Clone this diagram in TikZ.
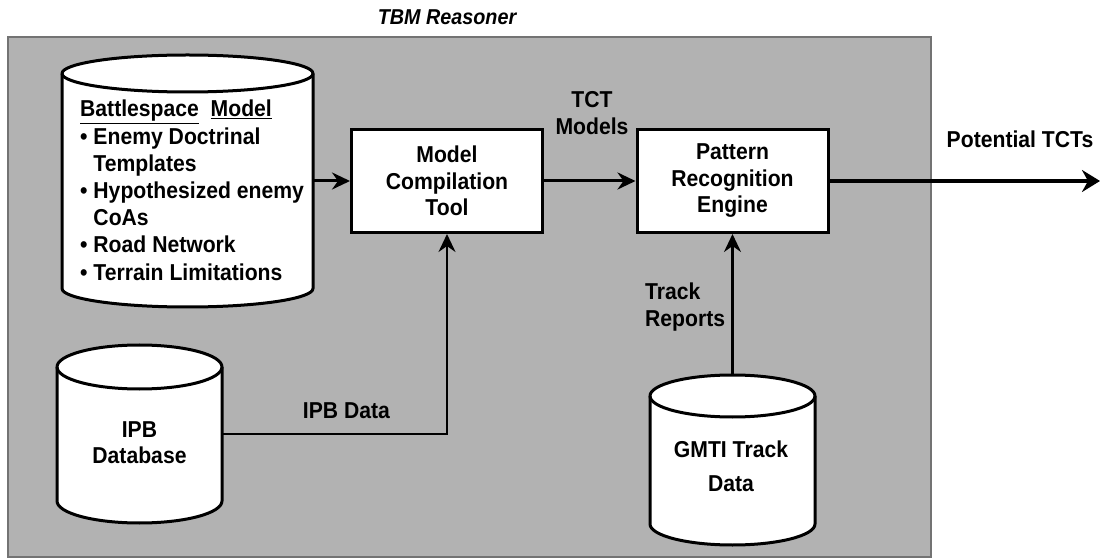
\documentclass[tikz,border=0pt]{standalone}
\usepackage{fontspec}
\setmainfont[FakeStretch=0.92]{Liberation Sans}
\usetikzlibrary{arrows.meta,calc}

\begin{document}
\begin{tikzpicture}[x=1bp,y=-1bp,
  lbl/.style={font=\bfseries\fontsize{23bp}{26.5bp}\selectfont, align=center, inner sep=0pt},
  proc/.style={lbl, draw, fill=white, line width=3bp, minimum width=191bp, minimum height=103bp},
  cyl/.style={draw, fill=white, line width=3bp, line join=round},
  store/.style={inner sep=0pt, minimum width=#1},
  flow/.style={line width=3bp, -{Stealth[length=18bp,width=17bp,inset=6bp]}},
  feed/.style={line width=2.4bp, -{Stealth[length=18bp,width=17bp,inset=6bp]}}]
  \useasboundingbox (0,0) rectangle (1101,560);

  % reasoner panel
  \filldraw[fill=black!30, draw=black!55, line width=1.5bp] (8,37) rectangle (931,557);
  \node[lbl, font=\bfseries\itshape\fontsize{21.5bp}{24bp}\selectfont, anchor=base] (title) at (447,25) {TBM Reasoner};

  % data stores
  \filldraw[cyl] (62,73.5) -- (62,288.5) arc[start angle=180,end angle=0,x radius=125.5,y radius=18.5]
    -- (313,73.5) arc[start angle=0,end angle=-180,x radius=125.5,y radius=18.5] -- cycle;
  \draw[cyl, fill=none] (62,73.5) arc[start angle=180,end angle=0,x radius=125.5,y radius=18.5];

  \filldraw[cyl] (57,367) -- (57,501) arc[start angle=180,end angle=0,x radius=82.5,y radius=22]
    -- (222,367) arc[start angle=0,end angle=-180,x radius=82.5,y radius=22] -- cycle;
  \draw[cyl, fill=none] (57,367) arc[start angle=180,end angle=0,x radius=82.5,y radius=22];

  \filldraw[cyl] (650,396) -- (650,524) arc[start angle=180,end angle=0,x radius=82.5,y radius=21]
    -- (815,396) arc[start angle=0,end angle=-180,x radius=82.5,y radius=21] -- cycle;
  \draw[cyl, fill=none] (650,396) arc[start angle=180,end angle=0,x radius=82.5,y radius=21];

  \node[store=251bp, minimum height=252bp] (bsm) at (187.5,181) {};
  \node[store=165bp, minimum height=178bp] (ipb) at (139.5,434) {};
  \node[store=165bp, minimum height=170bp] (gmti) at (732.5,460) {};

  \node[lbl, align=left, anchor=north west, font=\bfseries\fontsize{23bp}{27.2bp}\selectfont] (bsmtext) at (80,100)
    {\underline{Battlespace}\ \ \underline{Model}\\
     •\ Enemy Doctrinal\\
     \hphantom{•\ }Templates\\
     •\ Hypothesized enemy\\
     \hphantom{•\ }CoAs\\
     •\ Road Network\\
     •\ Terrain Limitations};
  \node[lbl, anchor=north] (ipbtext) at (139.5,421) {IPB\\Database};
  \node[lbl, anchor=north] (gmtitext) at (731,441) {GMTI Track\\[7bp]Data};

  % processing boxes
  \node[proc] (mct) at (447,181) {Model\\Compilation\\Tool};
  \node[proc] (pre) at (732.5,181) {Pattern\\Recognition\\Engine};

  % flows
  \coordinate (out) at (1100,181);
  \draw[flow] (bsm.east) -- (mct.west);
  \draw[flow] (mct.east) -- (pre.west);
  \draw[flow, line width=3.5bp, -{Stealth[length=18bp,width=22bp,inset=6bp]}] (pre.east) -- (out);
  \draw[feed] (ipb.east) -| (mct.south);
  \draw[feed, line width=2.2bp] (gmti.north) -- (pre.south);

  \node[lbl] (tctlbl) at (592,113) {TCT\\Models};
  \node[lbl, anchor=base] (ipblbl) at (346.5,418) {IPB Data};
  \node[lbl, align=left, anchor=north west] (tracklbl) at (645,283) {Track\\Reports};
  \node[lbl, anchor=base] (outlbl) at (1020,148) {Potential TCTs};
\end{tikzpicture}
\end{document}
